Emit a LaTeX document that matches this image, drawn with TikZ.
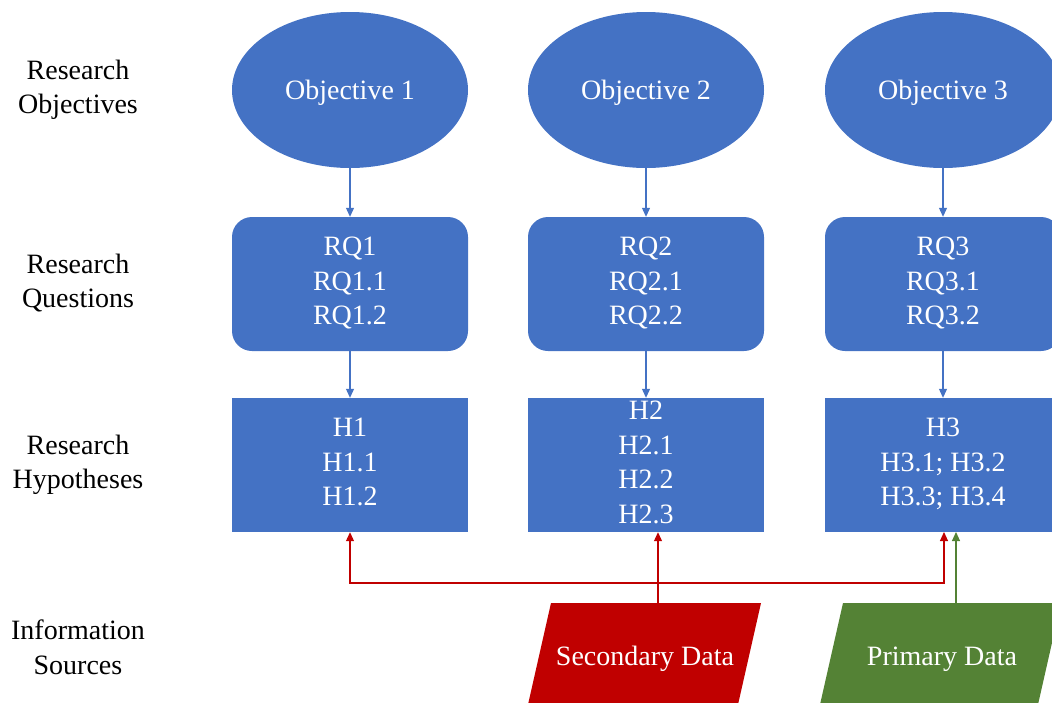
\documentclass[tikz,border=0pt]{standalone}
\usepackage{fontspec}
\setmainfont{Liberation Serif}
\usetikzlibrary{shapes.geometric,arrows.meta}
\definecolor{boxblue}{HTML}{4472C4}
\definecolor{srcred}{HTML}{C00000}
\definecolor{srcgreen}{HTML}{548235}
% fixed line struts so every text block sits the same way in its shape
\newcommand\topstrut{\rule{0pt}{25pt}}
\newcommand\botstrut{\rule[-6pt]{0pt}{6pt}}
\begin{document}
\begin{tikzpicture}[x=1pt,y=-1pt,
  txt/.style={font=\fontsize{28}{34.5}\selectfont, align=center,
    execute at begin node=\topstrut, execute at end node=\botstrut},
  objective/.style={txt, ellipse, fill=boxblue, text=white, minimum width=236, minimum height=156, inner sep=0pt},
  question/.style={txt, rectangle, rounded corners=20pt, fill=boxblue, text=white, minimum width=236, minimum height=134, inner sep=0pt},
  hypothesis/.style={txt, rectangle, fill=boxblue, text=white, minimum width=236, minimum height=134, inner sep=0pt},
  source/.style={txt, text=white, inner sep=0pt},
  rowlabel/.style={txt, text=black},
  link/.style={line width=1.1pt, -{Triangle[length=9pt,width=8pt]}},
]
\useasboundingbox (0,0) rectangle (1052,702);
\clip (0,0) rectangle (1052,702);

% row labels
\node[rowlabel] (lobj) at (78,90) {Research\\Objectives};
\node[rowlabel] (lrq)  at (78,284) {Research\\Questions};
\node[rowlabel] (lhyp) at (78,465) {Research\\Hypotheses};
\node[rowlabel] (lsrc) at (78,650) {Information\\Sources};

% objectives
\node[objective] (o1) at (350,90) {Objective 1};
\node[objective] (o2) at (646,90) {Objective 2};
\node[objective] (o3) at (943,90) {Objective 3};

% research questions
\node[question] (q1) at (350,284) {RQ1\\RQ1.1\\RQ1.2};
\node[question] (q2) at (646,284) {RQ2\\RQ2.1\\RQ2.2};
\node[question] (q3) at (943,284) {RQ3\\RQ3.1\\RQ3.2};

% hypotheses
\node[hypothesis] (h1) at (350,465) {H1\\H1.1\\H1.2};
\node[hypothesis] (h2) at (646,465) {H2\\H2.1\\H2.2\\H2.3};
\node[hypothesis] (h3) at (943,465) {H3\\H3.1; H3.2\\H3.3; H3.4};

% information sources: slanted parallelograms
\fill[srcred]   (527,709) -- (551,603) -- (761,603) -- (737,709) -- cycle;
\fill[srcgreen] (819,709) -- (843,603) -- (1061,603) -- (1037,709) -- cycle;
\coordinate (sdtop) at (658,603);
\coordinate (pdtop) at (956,603);
\node[source] (sd) at (645,656) {Secondary Data};
\node[source] (pd) at (942,656) {Primary Data};

% vertical flow
\foreach \i in {1,2,3}{
  \draw[link, boxblue] (o\i) -- (q\i);
  \draw[link, boxblue] (q\i) -- (h\i);
}

% secondary data feeds all hypotheses
\coordinate (bus) at (658,583);
\coordinate (r3) at (944,532);
\coordinate (g3) at (956,532);
\draw[link, srcred] (sdtop) -- (h2.south -| sdtop);
\draw[link, srcred, {Triangle[length=9pt,width=8pt]}-{Triangle[length=9pt,width=8pt]}]
  (h1.south) -- (h1.south |- bus) -- (r3 |- bus) -- (r3);

% primary data feeds hypothesis 3
\draw[link, srcgreen] (pdtop) -- (g3);
\end{tikzpicture}
\end{document}
